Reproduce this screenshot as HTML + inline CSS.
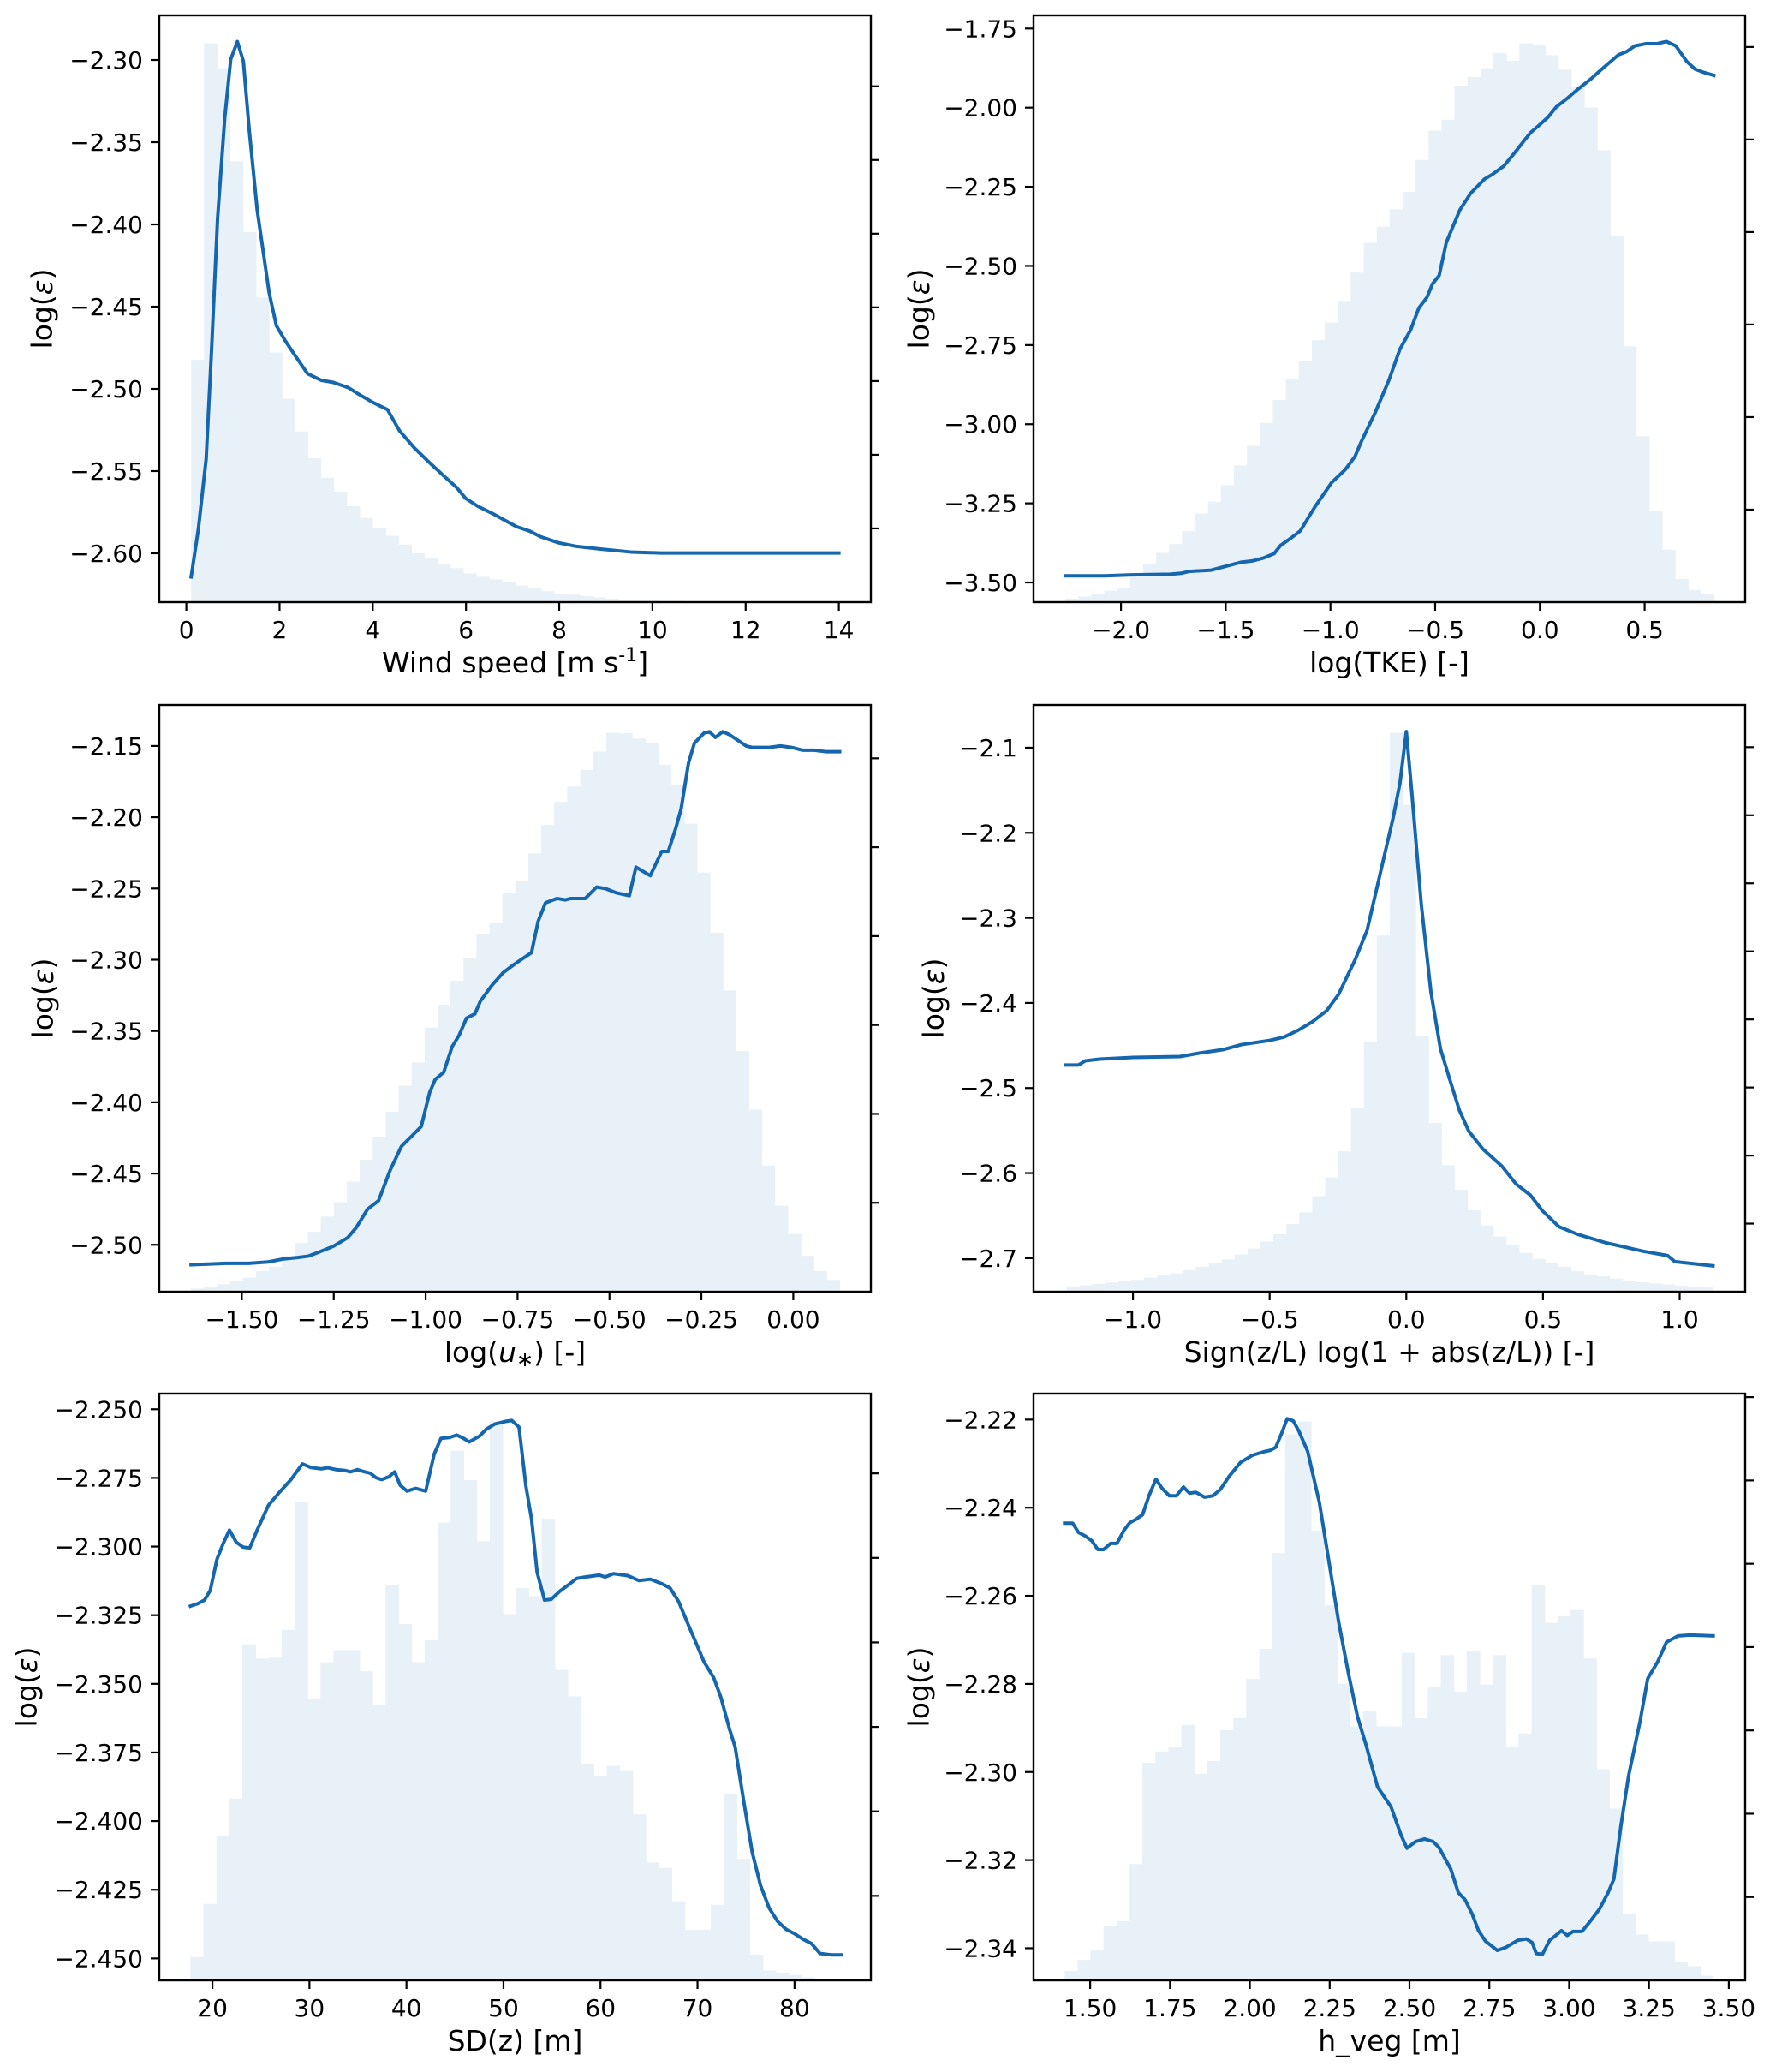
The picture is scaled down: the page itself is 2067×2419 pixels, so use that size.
<!DOCTYPE html>
<html>
<head>
<meta charset="utf-8">
<style>
html,body{margin:0;padding:0;background:#fff;}
svg{display:block;}
text{font-family:"DejaVu Sans","Liberation Sans",sans-serif;fill:#000;}
</style>
</head>
<body>
<svg id="fig" width="2067" height="2419" viewBox="0 0 2067 2419" xmlns="http://www.w3.org/2000/svg"></svg>
<script>
// ---------- Panel 1: Wind speed ----------
const p1LineX = [0.103,0.258,0.425,0.541,0.670,0.824,0.953,1.095,1.224,1.352,1.520,1.777,1.932,2.125,2.344,2.602,2.898,3.156,3.478,3.671,3.993,4.315,4.572,4.894,5.216,5.538,5.796,5.989,6.247,6.569,6.826,7.084,7.367,7.599,7.985,8.372,8.887,9.531,10.175,11.463,14.0];
const p1LineY = [-2.6144,-2.5852,-2.5426,-2.4762,-2.3965,-2.3353,-2.2995,-2.2888,-2.3008,-2.3433,-2.3912,-2.4416,-2.4616,-2.4709,-2.4802,-2.4908,-2.4948,-2.4961,-2.4993,-2.5028,-2.5081,-2.5126,-2.5254,-2.5360,-2.5448,-2.5533,-2.5599,-2.5665,-2.5713,-2.5758,-2.5798,-2.5838,-2.5865,-2.5899,-2.5936,-2.5958,-2.5974,-2.5992,-2.5998,-2.5998,-2.5998];
const p1HistRange = [0.103, 14.0];
const p1Counts = [555,1280,1223,1010,848,698,572,466,391,330,285,253,220,193,170,152,132,112,100,86,78,66,58,52,45,38,32,25,20,17,14,11,8,6,5,4,3,3,2,2,1,1,1,1,1,1,0,0,0,1];
const p1XTicks = [0,2,4,6,8,10,12,14];
const p1XTickLabels = ["0","2","4","6","8","10","12","14"];
const p1YTicks = [-2.30,-2.35,-2.40,-2.45,-2.50,-2.55,-2.60];
const p1YTickLabels = ["−2.30","−2.35","−2.40","−2.45","−2.50","−2.55","−2.60"];

// ---------- Panel 2: log(TKE) ----------
const p2LineX = [-2.266,-2.078,-1.948,-1.765,-1.713,-1.674,-1.569,-1.530,-1.426,-1.374,-1.321,-1.269,-1.238,-1.191,-1.144,-1.074,-0.995,-0.930,-0.883,-0.852,-0.787,-0.721,-0.669,-0.617,-0.578,-0.539,-0.513,-0.481,-0.447,-0.408,-0.382,-0.330,-0.265,-0.225,-0.173,-0.121,-0.069,-0.043,-0.001,0.039,0.078,0.130,0.179,0.244,0.296,0.375,0.414,0.453,0.505,0.557,0.604,0.649,0.701,0.740,0.779,0.831];
const p2LineY = [-3.479,-3.479,-3.476,-3.474,-3.471,-3.465,-3.461,-3.454,-3.436,-3.432,-3.423,-3.409,-3.383,-3.361,-3.337,-3.261,-3.185,-3.144,-3.102,-3.054,-2.964,-2.861,-2.764,-2.702,-2.633,-2.599,-2.557,-2.530,-2.426,-2.364,-2.323,-2.270,-2.226,-2.210,-2.185,-2.143,-2.099,-2.078,-2.054,-2.030,-1.998,-1.971,-1.943,-1.909,-1.878,-1.833,-1.823,-1.805,-1.798,-1.798,-1.791,-1.805,-1.854,-1.878,-1.888,-1.898];
const p2HistRange = [-2.266, 0.831];
const p2Counts = [8,13,18,26,33,60,88,113,133,163,203,230,268,313,358,410,463,510,553,600,640,690,755,823,860,900,940,1013,1080,1105,1183,1203,1223,1258,1240,1280,1276,1253,1220,1180,1133,1035,840,586,380,210,120,53,28,20];
const p2XTicks = [-2.0,-1.5,-1.0,-0.5,0.0,0.5];
const p2XTickLabels = ["−2.0","−1.5","−1.0","−0.5","0.0","0.5"];
const p2YTicks = [-1.75,-2.00,-2.25,-2.50,-2.75,-3.00,-3.25,-3.50];
const p2YTickLabels = ["−1.75","−2.00","−2.25","−2.50","−2.75","−3.00","−3.25","−3.50"];

// ---------- Panel 3: log(u*) ----------
const p3LineX = [-1.638,-1.543,-1.482,-1.428,-1.389,-1.351,-1.320,-1.289,-1.251,-1.212,-1.189,-1.158,-1.128,-1.097,-1.066,-1.035,-1.012,-0.989,-0.974,-0.951,-0.928,-0.909,-0.889,-0.866,-0.851,-0.820,-0.789,-0.758,-0.712,-0.694,-0.674,-0.643,-0.620,-0.605,-0.566,-0.535,-0.512,-0.482,-0.446,-0.428,-0.389,-0.358,-0.340,-0.320,-0.305,-0.285,-0.269,-0.243,-0.228,-0.212,-0.192,-0.174,-0.151,-0.128,-0.112,-0.066,-0.035,-0.005,0.026,0.057,0.088,0.126];
const p3LineY = [-2.514,-2.513,-2.513,-2.512,-2.510,-2.509,-2.508,-2.505,-2.501,-2.495,-2.488,-2.475,-2.469,-2.448,-2.431,-2.423,-2.417,-2.393,-2.384,-2.379,-2.361,-2.353,-2.341,-2.338,-2.329,-2.318,-2.309,-2.303,-2.295,-2.273,-2.260,-2.257,-2.258,-2.257,-2.257,-2.249,-2.250,-2.253,-2.255,-2.235,-2.241,-2.224,-2.224,-2.208,-2.194,-2.162,-2.148,-2.141,-2.140,-2.144,-2.140,-2.142,-2.146,-2.150,-2.151,-2.151,-2.150,-2.151,-2.153,-2.153,-2.154,-2.154];
const p3HistRange = [-1.638, 0.126];
const p3Counts = [7,11,17,25,32,47,57,82,112,137,172,205,252,302,355,412,472,525,605,657,712,765,819,845,912,940,1004,1069,1122,1157,1195,1237,1280,1279,1267,1257,1207,1162,1072,960,822,690,551,417,289,197,132,82,47,27];
const p3XTicks = [-1.50,-1.25,-1.00,-0.75,-0.50,-0.25,0.00];
const p3XTickLabels = ["−1.50","−1.25","−1.00","−0.75","−0.50","−0.25","0.00"];
const p3YTicks = [-2.15,-2.20,-2.25,-2.30,-2.35,-2.40,-2.45,-2.50];
const p3YTickLabels = ["−2.15","−2.20","−2.25","−2.30","−2.35","−2.40","−2.45","−2.50"];

// ---------- Panel 4: stability ----------
const p4LineX = [-1.247,-1.2,-1.174,-1.122,-1.0,-0.828,-0.758,-0.672,-0.603,-0.499,-0.447,-0.395,-0.343,-0.291,-0.248,-0.187,-0.144,-0.100,-0.048,-0.023,0,0.021,0.055,0.090,0.125,0.159,0.194,0.229,0.281,0.350,0.402,0.454,0.497,0.558,0.627,0.731,0.869,0.956,0.982,1.122];
const p4LineY = [-2.473,-2.473,-2.468,-2.466,-2.464,-2.463,-2.459,-2.455,-2.449,-2.444,-2.440,-2.432,-2.422,-2.409,-2.390,-2.349,-2.315,-2.254,-2.182,-2.141,-2.081,-2.156,-2.285,-2.387,-2.454,-2.490,-2.526,-2.551,-2.572,-2.592,-2.613,-2.626,-2.644,-2.663,-2.672,-2.682,-2.692,-2.697,-2.704,-2.709];
const p4HistRange = [-1.243, 1.122];
const p4Counts = [12,15,18,21,24,27,32,37,42,49,57,65,74,85,99,115,132,155,182,219,262,322,422,572,817,1282,1117,587,387,290,234,187,152,127,107,89,75,67,57,47,39,35,30,25,22,19,17,14,12,10];
const p4XTicks = [-1.0,-0.5,0.0,0.5,1.0];
const p4XTickLabels = ["−1.0","−0.5","0.0","0.5","1.0"];
const p4YTicks = [-2.1,-2.2,-2.3,-2.4,-2.5,-2.6,-2.7];
const p4YTickLabels = ["−2.1","−2.2","−2.3","−2.4","−2.5","−2.6","−2.7"];

// ---------- Panel 5: SD(z) ----------
const p5LineX = [17.73,18.48,19.18,19.77,20.47,21.11,21.75,22.45,23.15,23.85,24.61,25.77,26.94,28.10,29.27,30.15,31.20,31.90,32.77,33.64,34.23,34.93,35.69,36.27,36.85,37.43,38.19,38.78,39.36,40.06,40.93,41.98,42.86,43.56,44.43,45.19,45.89,46.47,47.52,48.22,49.10,50.26,50.85,51.60,52.30,52.89,53.47,54.23,54.93,55.80,56.68,57.55,58.43,59.88,60.47,61.34,62.80,63.97,65.13,66.30,67.17,68.05,68.92,69.80,70.67,71.66,72.42,73.29,73.88,74.75,75.63,76.50,77.38,78.25,79.13,80.00,80.87,81.75,82.62,83.79,84.78];
const p5LineY = [-2.3217,-2.3208,-2.3195,-2.3160,-2.3046,-2.2989,-2.2940,-2.2984,-2.3002,-2.3005,-2.2940,-2.2850,-2.2801,-2.2756,-2.2699,-2.2712,-2.2717,-2.2713,-2.2720,-2.2723,-2.2728,-2.2720,-2.2728,-2.2733,-2.2749,-2.2756,-2.2746,-2.2728,-2.2777,-2.2798,-2.2788,-2.2798,-2.2663,-2.2606,-2.2603,-2.2594,-2.2606,-2.2619,-2.2598,-2.2573,-2.2554,-2.2544,-2.2541,-2.2565,-2.2777,-2.2899,-2.3094,-2.3195,-2.3192,-2.3163,-2.3140,-2.3116,-2.3111,-2.3104,-2.3111,-2.3099,-2.3106,-2.3124,-2.3119,-2.3135,-2.3151,-2.3200,-2.3274,-2.3347,-2.3420,-2.3477,-2.3550,-2.3664,-2.3730,-2.3925,-2.4112,-2.4235,-2.4316,-2.4365,-2.4394,-2.4410,-2.4430,-2.4446,-2.4482,-2.4487,-2.4487];
const p5HistRange = [17.73, 84.78];
const p5Counts = [52,170,322,404,747,715,717,779,1064,625,707,734,734,687,612,879,792,707,756,1017,1177,1112,976,1242,814,872,854,1026,690,631,482,455,477,465,369,262,250,176,112,113,168,415,270,57,22,17,12,7,4,2];
const p5XTicks = [20,30,40,50,60,70,80];
const p5XTickLabels = ["20","30","40","50","60","70","80"];
const p5YTicks = [-2.250,-2.275,-2.300,-2.325,-2.350,-2.375,-2.400,-2.425,-2.450];
const p5YTickLabels = ["−2.250","−2.275","−2.300","−2.325","−2.350","−2.375","−2.400","−2.425","−2.450"];

// ---------- Panel 6: h_veg ----------
const p6LineX = [1.420,1.445,1.463,1.484,1.505,1.524,1.542,1.564,1.584,1.606,1.624,1.642,1.664,1.684,1.706,1.725,1.748,1.770,1.792,1.811,1.831,1.858,1.884,1.907,1.935,1.971,2.008,2.044,2.063,2.081,2.099,2.117,2.136,2.154,2.181,2.218,2.254,2.278,2.309,2.337,2.364,2.400,2.442,2.474,2.492,2.519,2.547,2.574,2.592,2.629,2.653,2.674,2.696,2.716,2.738,2.775,2.802,2.839,2.866,2.884,2.897,2.916,2.939,2.958,2.976,2.994,3.012,3.040,3.067,3.095,3.122,3.140,3.162,3.186,3.222,3.246,3.277,3.305,3.341,3.378,3.451];
const p6LineY = [-2.2435,-2.2435,-2.2456,-2.2464,-2.2475,-2.2495,-2.2495,-2.2481,-2.2481,-2.2451,-2.2434,-2.2427,-2.2416,-2.2373,-2.2335,-2.2356,-2.2373,-2.2373,-2.2353,-2.2367,-2.2365,-2.2376,-2.2373,-2.2359,-2.2329,-2.2297,-2.2281,-2.2273,-2.2270,-2.2263,-2.2232,-2.2198,-2.2203,-2.2227,-2.2272,-2.2389,-2.2551,-2.2659,-2.2777,-2.2874,-2.2939,-2.3034,-2.3079,-2.3144,-2.3173,-2.3158,-2.3152,-2.3158,-2.3171,-2.3220,-2.3274,-2.3290,-2.3322,-2.3360,-2.3384,-2.3405,-2.3398,-2.3382,-2.3379,-2.3387,-2.3412,-2.3414,-2.3382,-2.3371,-2.3360,-2.3371,-2.3362,-2.3362,-2.3338,-2.3311,-2.3274,-2.3243,-2.3123,-2.3009,-2.2885,-2.2788,-2.2750,-2.2705,-2.2691,-2.2689,-2.2691];
const p6HistRange = [1.420, 3.451];
const p6Counts = [20,43,65,115,125,245,458,482,492,538,435,462,527,552,635,698,900,1150,1177,947,790,625,535,567,535,535,690,552,618,685,608,693,623,685,493,520,832,753,767,780,678,445,362,140,97,82,82,40,30,10];
const p6XTicks = [1.50,1.75,2.00,2.25,2.50,2.75,3.00,3.25,3.50];
const p6XTickLabels = ["1.50","1.75","2.00","2.25","2.50","2.75","3.00","3.25","3.50"];
const p6YTicks = [-2.22,-2.24,-2.26,-2.28,-2.30,-2.32,-2.34];
const p6YTickLabels = ["−2.22","−2.24","−2.26","−2.28","−2.30","−2.32","−2.34"];

const NS = "http://www.w3.org/2000/svg";
const svg = document.getElementById("fig");
function el(tag, attrs, parent){
  const e = document.createElementNS(NS, tag);
  for (const k in attrs) e.setAttribute(k, attrs[k]);
  (parent||svg).appendChild(e);
  return e;
}

const panels = [
  {id:"wind-speed", L:186,R:1017,T:18,B:703, xd:[-0.5806,14.6866], yd:[-2.6297,-2.2729],
   lx:p1LineX, ly:p1LineY, hr:p1HistRange, hc:p1Counts, xt:p1XTicks, xtl:p1XTickLabels, yt:p1YTicks, ytl:p1YTickLabels,
   rtFrac:0.1256, xlabel:"wind", ylabX:49},
  {id:"tke", L:1207,R:2038,T:18,B:703, xd:[-2.4174,0.9800], yd:[-3.5622,-1.7086],
   lx:p2LineX, ly:p2LineY, hr:p2HistRange, hc:p2Counts, xt:p2XTicks, xtl:p2XTickLabels, yt:p2YTicks, ytl:p2YTickLabels,
   rtFrac:0.1577, xlabel:"log(TKE) [-]", ylabX:1073},
  {id:"ustar", L:186,R:1017,T:823,B:1508, xd:[-1.7245,0.2110], yd:[-2.5329,-2.1212],
   lx:p3LineX, ly:p3LineY, hr:p3HistRange, hc:p3Counts, xt:p3XTicks, xtl:p3XTickLabels, yt:p3YTicks, ytl:p3YTickLabels,
   rtFrac:0.1515, xlabel:"ustar", ylabX:50},
  {id:"stability", L:1207,R:2038,T:823,B:1508, xd:[-1.3637,1.2397], yd:[-2.7394,-2.0497],
   lx:p4LineX, ly:p4LineY, hr:p4HistRange, hc:p4Counts, xt:p4XTicks, xtl:p4XTickLabels, yt:p4YTicks, ytl:p4YTickLabels,
   rtFrac:0.116, xlabel:"Sign(z/L) log(1 + abs(z/L)) [-]", ylabX:1090},
  {id:"sdz", L:186,R:1017,T:1627,B:2312, xd:[14.52,87.87], yd:[-2.4580,-2.2443],
   lx:p5LineX, ly:p5LineY, hr:p5HistRange, hc:p5Counts, xt:p5XTicks, xtl:p5XTickLabels, yt:p5YTicks, ytl:p5YTickLabels,
   rtFrac:0.144, xlabel:"SD(z) [m]", ylabX:31},
  {id:"hveg", L:1207,R:2038,T:1627,B:2312, xd:[1.3227,3.5512], yd:[-2.3473,-2.2141],
   lx:p6LineX, ly:p6LineY, hr:p6HistRange, hc:p6Counts, xt:p6XTicks, xtl:p6XTickLabels, yt:p6YTicks, ytl:p6YTickLabels,
   rtFrac:0.142, xlabel:"h_veg [m]", ylabX:1073}
];

panels.forEach((p, pi) => {
  const g = el("g", {});
  
  
  const sx = v => p.L + (v - p.xd[0]) / (p.xd[1] - p.xd[0]) * (p.R - p.L);
  const sy = v => p.B - (v - p.yd[0]) / (p.yd[1] - p.yd[0]) * (p.B - p.T);
  const H = p.B - p.T;
  const histMax = Math.max(...p.hc) * 1.05;
  const sh = c => p.B - c / histMax * H;

  const hg = el("g", {}, g);
  
  
  const n = p.hc.length;
  const w = (p.hr[1] - p.hr[0]) / n;
  for (let i = 0; i < n; i++) {
    const x0 = sx(p.hr[0] + i * w), x1 = sx(p.hr[0] + (i + 1) * w);
    const y = sh(p.hc[i]);
    const r = el("rect", {x:x0.toFixed(2), y:y.toFixed(2), width:(x1 - x0 + 0.6).toFixed(2), height:(p.B - y).toFixed(2), fill:"#e8f0f8"}, hg);
    
    
  }

  let d = "";
  for (let i = 0; i < p.lx.length; i++) d += (i ? "L" : "M") + sx(p.lx[i]).toFixed(2) + "," + sy(p.ly[i]).toFixed(2);
  const line = el("path", {d:d, fill:"none", stroke:"#1467ae", "stroke-width":4, "stroke-linejoin":"round", "stroke-linecap":"square"}, g);
  
  

  const frame = el("rect", {x:p.L, y:p.T, width:p.R - p.L, height:H, fill:"none", stroke:"#000", "stroke-width":2.4}, g);
  
  

  p.yt.forEach((v, i) => {
    const y = sy(v);
    const t = el("line", {x1:p.L - 10, x2:p.L, y1:y, y2:y, stroke:"#000", "stroke-width":2.2}, g);
    
    
    const tx = el("text", {x:p.L - 19, y:y + 10, "font-size":28, "text-anchor":"end"}, g);
    tx.textContent = p.ytl[i];
    
    
  });
  p.xt.forEach((v, i) => {
    const x = sx(v);
    const t = el("line", {x1:x, x2:x, y1:p.B, y2:p.B + 10, stroke:"#000", "stroke-width":2.2}, g);
    
    
    const tx = el("text", {x:x, y:p.B + 42, "font-size":28, "text-anchor":"middle"}, g);
    tx.textContent = p.xtl[i];
    
    
  });
  for (let k = 1; k * p.rtFrac < 1; k++) {
    const y = p.B - k * p.rtFrac * H;
    const t = el("line", {x1:p.R, x2:p.R + 10, y1:y, y2:y, stroke:"#000", "stroke-width":2.2}, g);
    
    
  }

  const xl = el("text", {x:(p.L + p.R) / 2, y:p.B + 82, "font-size":33, "text-anchor":"middle"}, g);
  
  
  if (p.xlabel === "wind") {
    xl.appendChild(document.createTextNode("Wind speed [m s"));
    const sup = el("tspan", {"font-size":22, dy:-13}, xl);
    sup.textContent = "-1";
    const rest = el("tspan", {dy:13}, xl);
    rest.textContent = "]";
  } else if (p.xlabel === "ustar") {
    xl.appendChild(document.createTextNode("log("));
    const u = el("tspan", {"font-style":"italic"}, xl);
    u.textContent = "u";
    const s = el("tspan", {"font-size":24, dy:5}, xl);
    s.textContent = "∗";
    const rest = el("tspan", {dy:-5}, xl);
    rest.textContent = ") [-]";
  } else {
    xl.textContent = p.xlabel;
  }

  const cy = (p.T + p.B) / 2;
  const yl = el("text", {x:p.ylabX, y:cy, "font-size":33, "text-anchor":"middle", "dominant-baseline":"central", transform:"rotate(-90 " + p.ylabX + " " + cy + ")"}, g);
  
  
  yl.appendChild(document.createTextNode("log("));
  const eps = el("tspan", {"font-style":"italic"}, yl);
  eps.textContent = "ε";
  yl.appendChild(document.createTextNode(")"));
});
</script>
</body>
</html>
